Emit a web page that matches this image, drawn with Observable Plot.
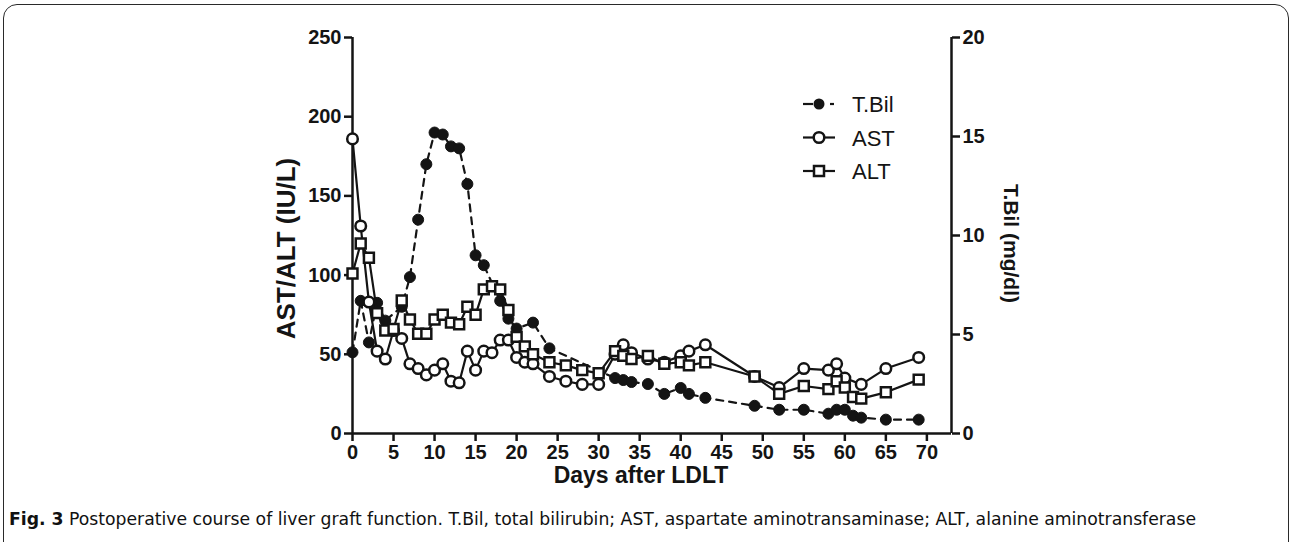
<!DOCTYPE html>
<html><head><meta charset="utf-8">
<script src="https://cdn.jsdelivr.net/npm/d3@7"></script>
<script src="https://cdn.jsdelivr.net/npm/@observablehq/plot@0.6"></script>
<style>
html,body{margin:0;padding:0;background:#fff;}
#wrap{position:relative;width:1292px;height:542px;overflow:hidden;font-family:"Liberation Sans",Arial,Helvetica,sans-serif;}
#frame{position:absolute;left:3px;top:4px;width:1286px;height:580px;border:1.5px solid #2a2a2a;border-radius:14px;box-sizing:border-box;}
#chart{position:absolute;left:0;top:0;}
#legend{position:absolute;left:0;top:0;}
#caption{position:absolute;left:9px;top:509px;font-size:17px;white-space:nowrap;transform-origin:left top;color:#111;font-family:"DejaVu Sans Condensed","Liberation Sans Narrow","Liberation Sans",sans-serif;}
</style></head>
<body>
<div id="wrap">
  <div id="frame"></div>
  <div id="chart"></div>
  <svg id="legend" width="1292" height="542"></svg>
  <div id="caption"><b>Fig. 3</b> Postoperative course of liver graft function. T.Bil, total bilirubin; AST, aspartate aminotransaminase; ALT, alanine aminotransferase</div>
</div>
<script>
// ---- data ----
const tbilDays   = [0,1,2,3,4,6,7,8,9,10,11,12,13,14,15,16,18,19,20,22,24,32,33,34,36,38,40,41,43,49,52,55,58,59,60,61,62,65,69];
const tbilValues = [4.1,6.7,4.6,6.6,5.7,6.4,7.9,10.8,13.6,15.2,15.1,14.5,14.4,12.6,9.0,8.5,6.7,5.8,5.3,5.6,4.3,2.8,2.7,2.6,2.5,2.0,2.3,2.0,1.8,1.4,1.2,1.2,1.0,1.2,1.2,0.9,0.8,0.7,0.7];

const astDays   = [0,1,2,3,4,5,6,7,8,9,10,11,12,13,14,15,16,17,18,19,20,21,22,24,26,28,30,32,33,34,36,38,40,41,43,49,52,55,58,59,60,62,65,69];
const astValues = [186,131,83,52,47,65,60,44,41,37,40,44,33,32,52,40,52,51,59,59,48,45,44,36,33,31,31,50,56,51,47,45,49,52,56,36,29,41,40,44,35,31,41,48];

const altDays   = [0,1,2,3,4,5,6,7,8,9,10,11,12,13,14,15,16,17,18,19,20,21,22,24,26,28,30,32,33,34,36,38,40,41,43,49,52,55,58,59,60,61,62,65,69];
const altValues = [101,120,111,76,65,66,84,72,63,63,72,75,70,69,80,75,91,93,91,78,61,55,50,45,43,40,38,52,49,47,49,44,45,43,45,36,25,30,28,33,29,23,22,26,34];

const xTicks = [0,5,10,15,20,25,30,35,40,45,50,55,60,65,70];
const leftTicks = [0,50,100,150,200,250];
const rightTicks = [0,5,10,15,20];
const seriesNames = ["T.Bil","AST","ALT"];
const xLabel = "Days after LDLT";
const leftLabel = "AST/ALT (IU/L)";
const rightLabel = "T.Bil (mg/dl)";

// ---- build ----
const leftMax = 250, rightMax = 20, ratio = leftMax / rightMax;
const tbil = tbilDays.map((d,i)=>({day:d, v:tbilValues[i]*ratio}));
const ast  = astDays.map((d,i)=>({day:d, v:astValues[i]}));
const alt  = altDays.map((d,i)=>({day:d, v:altValues[i]}));
const ink = "#141414";
const font = "'Liberation Sans', Arial, Helvetica, sans-serif";

const chart = Plot.plot({
  width: 1292, height: 500,
  marginLeft: 352, marginRight: 341, marginTop: 37, marginBottom: 67,
  style: {fontFamily: font, fontSize: "20px", fontWeight: "bold", color: ink, background: "transparent", overflow: "visible"},
  x: {domain: [0, 73]},
  y: {domain: [0, leftMax]},
  marks: [
    Plot.axisX({ticks: xTicks, tickSize: 8, tickPadding: 3, strokeWidth: 2.5, label: null, fontSize: 20, fontWeight: "bold"}),
    Plot.axisY({ticks: leftTicks, tickSize: 8, tickPadding: 3, strokeWidth: 2.5, label: null, fontSize: 20, fontWeight: "bold"}),
    Plot.axisY({anchor: "right", ticks: rightTicks.map(t=>t*ratio), tickFormat: d => d/ratio, tickSize: 8, tickPadding: 3, strokeWidth: 2.5, label: null, fontSize: 20, fontWeight: "bold"}),
    Plot.ruleX([0, 73], {y1: 0, y2: leftMax, stroke: ink, strokeWidth: 2.5}),
    Plot.ruleY([0], {x1: 0, x2: 73, stroke: ink, strokeWidth: 2.5}),
    Plot.text([leftLabel], {frameAnchor: "left", textAnchor: "middle", lineAnchor: "middle", dx: -66, dy: 13, rotate: -90, fontSize: 26, fontWeight: "bold", fill: ink}),
    Plot.text([rightLabel], {frameAnchor: "right", textAnchor: "middle", lineAnchor: "middle", dx: 59, dy: 8, rotate: 90, fontSize: 21, fontWeight: "bold", fill: ink}),
    Plot.text([xLabel], {frameAnchor: "bottom", textAnchor: "middle", lineAnchor: "middle", dx: -11, dy: 42, fontSize: 23, fontWeight: "bold", fill: ink}),
    Plot.line(tbil, {x: "day", y: "v", stroke: ink, strokeWidth: 2.2, strokeDasharray: "7,6"}),
    Plot.dot(tbil, {x: "day", y: "v", r: 5.5, fill: ink, stroke: ink, strokeWidth: 1}),
    Plot.line(ast, {x: "day", y: "v", stroke: ink, strokeWidth: 2.2}),
    Plot.dot(ast, {x: "day", y: "v", r: 5.3, fill: "white", stroke: ink, strokeWidth: 2.5}),
    Plot.line(alt, {x: "day", y: "v", stroke: ink, strokeWidth: 2.2}),
    Plot.dot(alt, {x: "day", y: "v", symbol: "square", r: 5.6, fill: "white", stroke: ink, strokeWidth: 2.5})
  ]
});
document.getElementById("chart").appendChild(chart);

// ---- legend ----
const lg = d3.select("#legend");
const lx = 819, ly0 = 104, lstep = 33.5;
seriesNames.forEach((name, i) => {
  const y = ly0 + i * lstep;
  const g = lg.append("g");
  if (i === 0) {
    g.append("line").attr("x1", 803).attr("x2", 813).attr("y1", y).attr("y2", y).attr("stroke", ink).attr("stroke-width", 2.2);
    g.append("line").attr("x1", 830).attr("x2", 834).attr("y1", y).attr("y2", y).attr("stroke", ink).attr("stroke-width", 2.2);
    g.append("circle").attr("cx", lx).attr("cy", y).attr("r", 5.5).attr("fill", ink);
  } else {
    g.append("line").attr("x1", 803).attr("x2", 835).attr("y1", y).attr("y2", y).attr("stroke", ink).attr("stroke-width", 2.2);
    if (i === 1) g.append("circle").attr("cx", lx).attr("cy", y).attr("r", 5.3).attr("fill", "white").attr("stroke", ink).attr("stroke-width", 2.5);
    else g.append("rect").attr("x", lx-5).attr("y", y-5).attr("width", 10).attr("height", 10).attr("fill", "white").attr("stroke", ink).attr("stroke-width", 2.5);
  }
  g.append("text").attr("x", 852).attr("y", y + 8).attr("font-family", font).attr("font-size", 22).attr("fill", ink).text(name);
});

// ---- caption width fit ----
const cap = document.getElementById("caption");
const w = cap.getBoundingClientRect().width;
cap.style.transform = `scaleX(${1187 / w})`;
</script>
</body></html>
